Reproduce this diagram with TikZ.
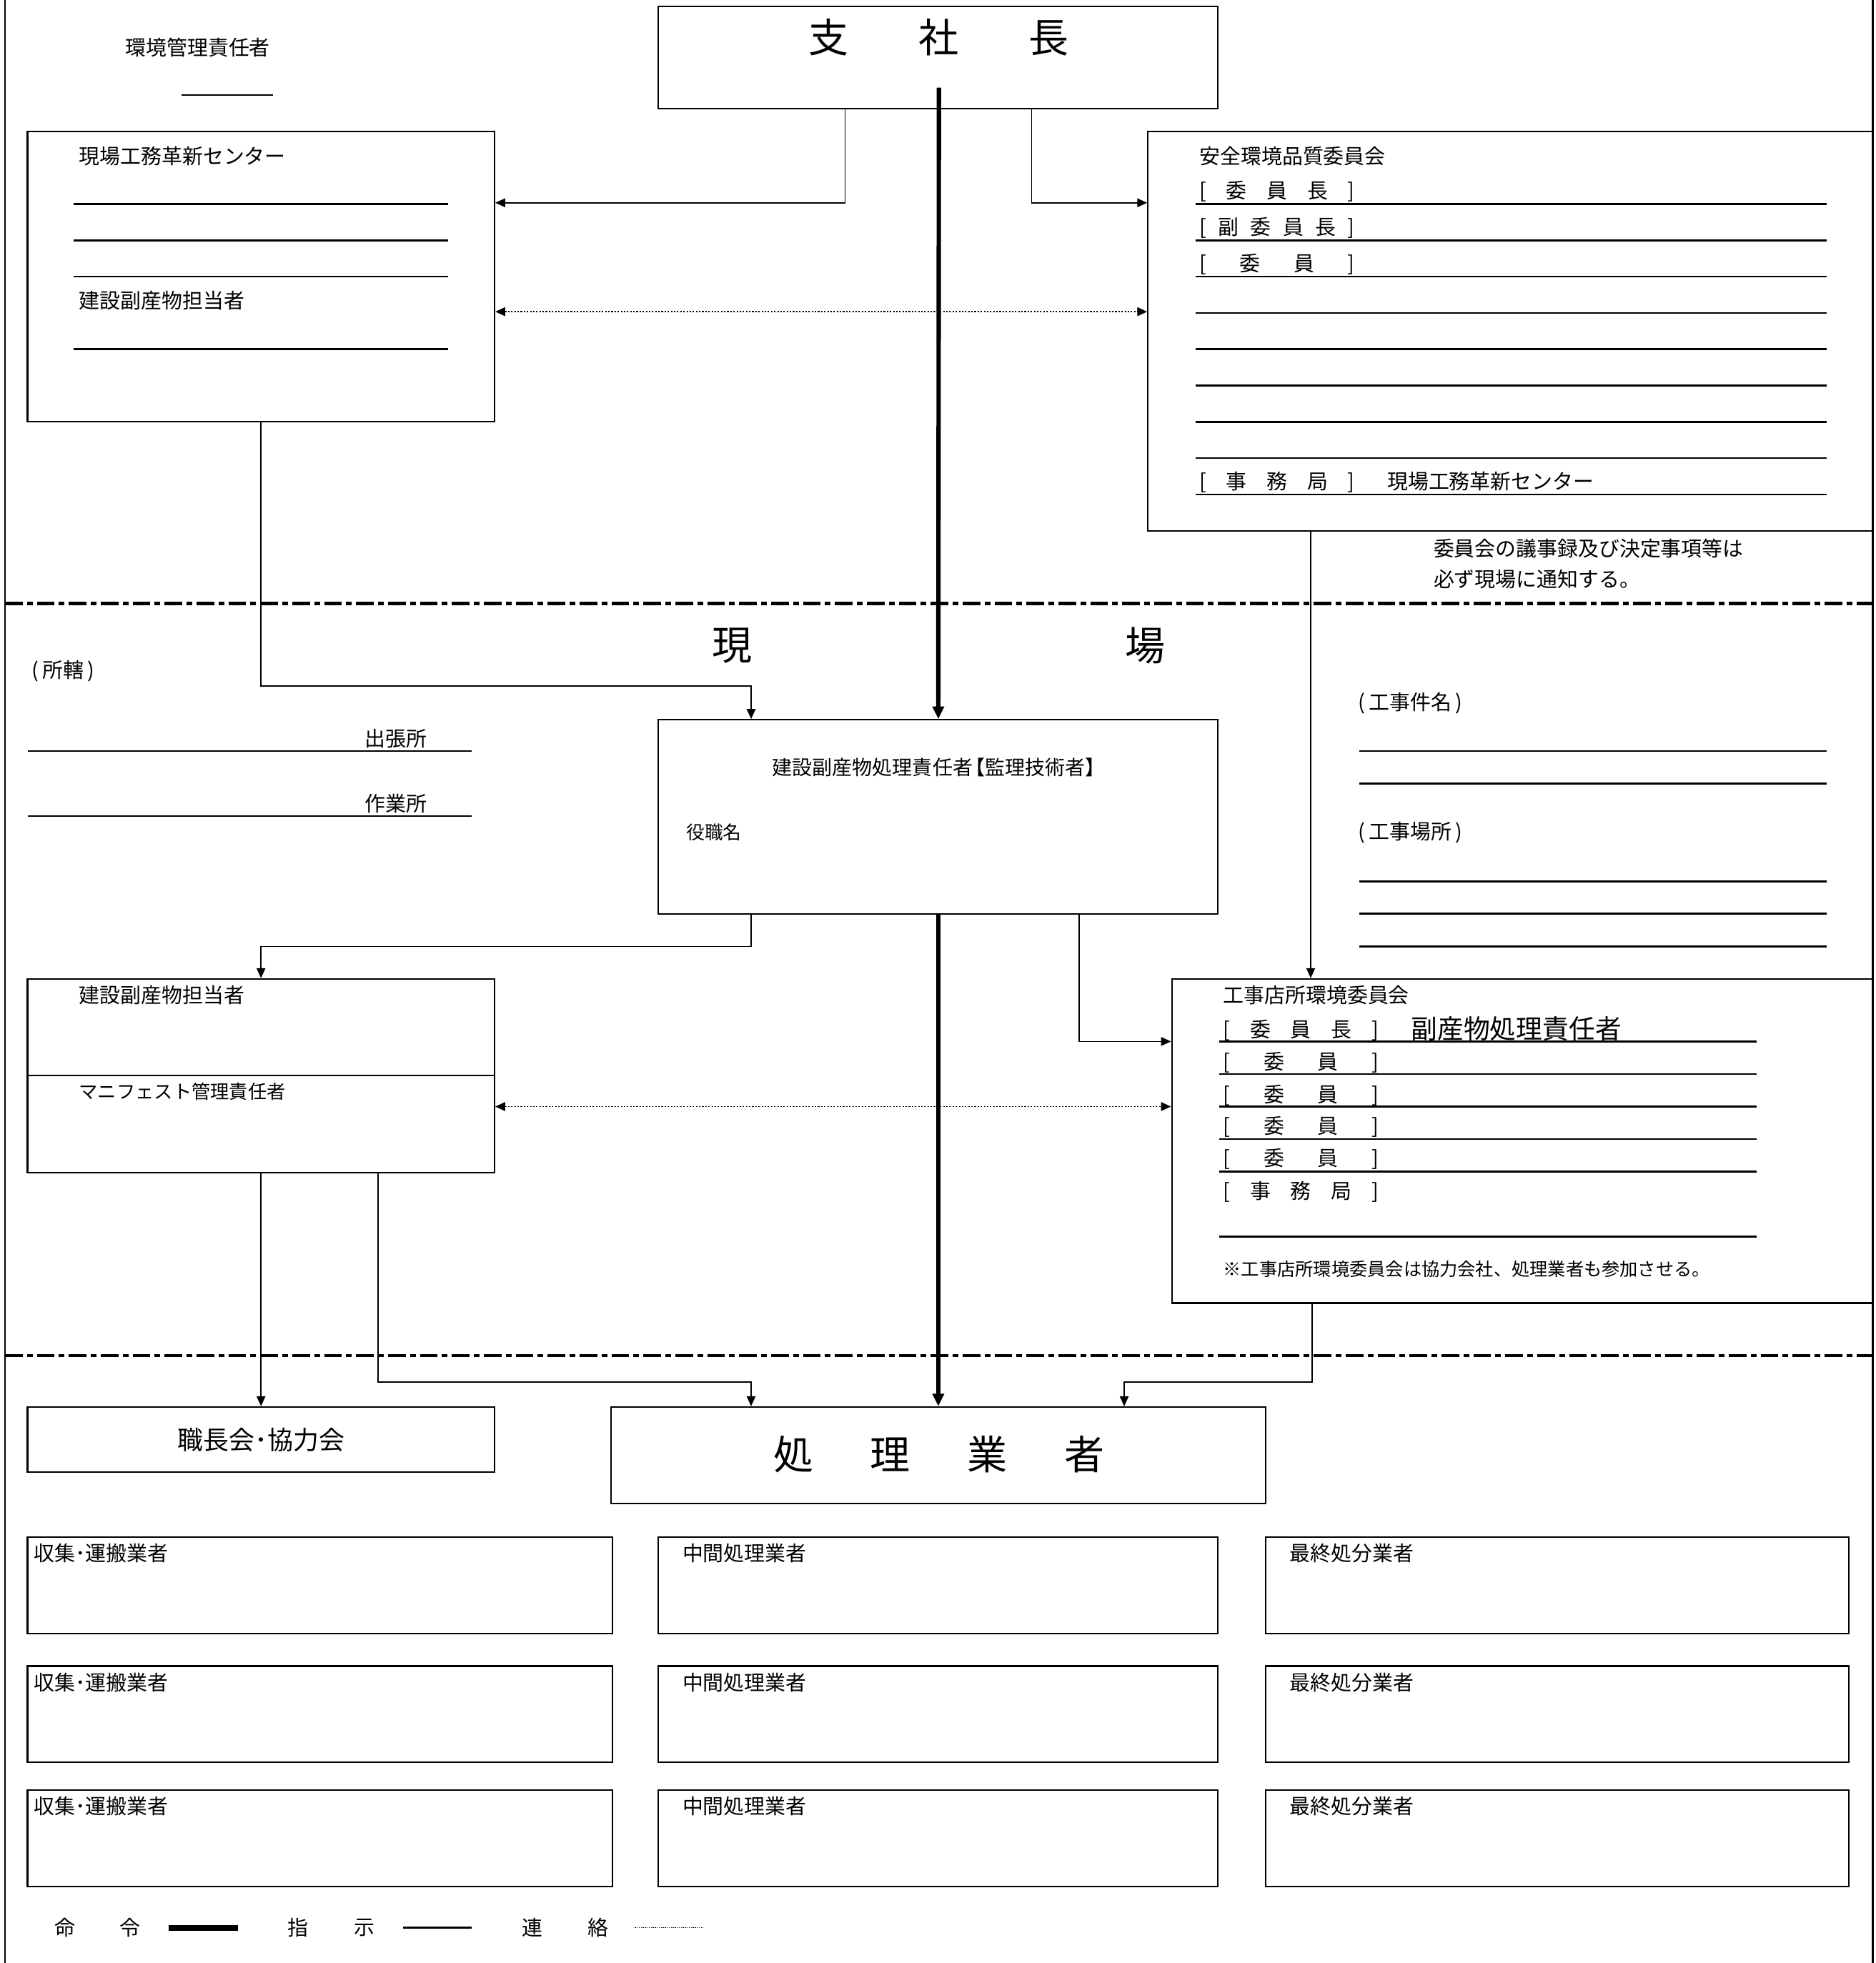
\documentclass[tikz,border=0pt]{standalone}
\usepackage{fontspec}
\setmainfont{Noto Sans CJK JP}
\usetikzlibrary{arrows.meta,fit}

\newcommand\fsz[1]{\fontsize{#1}{#1}\selectfont}
\newcommand\kakko[1]{\hbox to 124pt{[\hfill #1\hfill ]}}

\begin{document}
\begin{tikzpicture}[x=1pt,y=-1pt,
	box/.style={draw,line width=1.2pt,inner sep=0pt},
	txt/.style={inner sep=0pt,anchor=west,font=\fsz{16.5}},
	big/.style={inner sep=0pt,font=\fsz{32}},
	uline/.style={line width=1.5pt},
	meirei/.style={line width=3.5pt,-{Triangle[length=10pt,width=9pt]}},
	shiji/.style={line width=0.9pt,-{Triangle[length=8pt,width=7pt]}},
	renraku/.style={line width=1.1pt,dash pattern=on 1.2pt off 1.3pt,
		{Triangle[length=8pt,width=7pt]}-{Triangle[length=8pt,width=7pt]}},
	kugiri/.style={line width=2.6pt,dash pattern=on 14pt off 3.5pt on 4.5pt off 3.5pt}]
	\useasboundingbox (0,0) rectangle (1498,1568.2);
	% frame and zone borders
	\draw[line width=1.5pt] (4,0) -- (4,1568.2) (1496,0) -- (1496,1568.2);
	\draw[kugiri] (4,482) -- (1496,482);
	\draw[kugiri] (4,1083) -- (1496,1083);

	% head office
	\node[box, fit={(526,5) (973,87)}] (shacho) {};
	\node[big] (shacho_t) at (750,30) {支\hspace{56pt}社\hspace{56pt}長};
	\node[txt] (kankyo) at (100,38) {環境管理責任者};
	\draw[uline] (145,76) -- (218,76);

	\node[box, fit={(22,105) (395,337)}] (center) {};
	\node[txt] (center_t) at (63,125) {現場工務革新センター};
	\node[txt] (center_t2) at (63,240) {建設副産物担当者};
	\foreach \y in {163,192,221,279}
		\draw[uline] (59,\y) -- (358,\y);

	\node[box, fit={(917,105) (1496,424)}] (anzen) {};
	\node[txt] (anzen_t) at (958,125) {安全環境品質委員会};
	\node[txt] (anzen_1) at (958,153) {\kakko{委\hfill 員\hfill 長}};
	\node[txt] (anzen_2) at (958,182) {\kakko{副\hfill 委\hfill 員\hfill 長}};
	\node[txt] (anzen_3) at (958,211) {\kakko{委\hfill 員}};
	\node[txt] (anzen_4) at (958,385) {\kakko{事\hfill 務\hfill 局}\hspace{26pt}現場工務革新センター};
	\foreach \y in {163,192,...,395}
		\draw[uline] (955,\y) -- (1459,\y);
	\node[txt] (tsuchi_1) at (1145,438) {委員会の議事録及び決定事項等は};
	\node[txt] (tsuchi_2) at (1145,463) {必ず現場に通知する。};

	% site
	\node[big] (gen) at (585,516) {現};
	\node[big] (ba) at (915,516) {場};
	\node[txt] (shokatsu) at (25,536) {(\hspace{3pt}所轄\hspace{3pt})};
	\node[txt,anchor=east] (shutcho) at (341,590) {出張所};
	\node[txt,anchor=east] (sagyo) at (341,642) {作業所};
	\draw[uline] (22,600) -- (377,600) (22,652) -- (377,652);

	\node[txt] (kenmei) at (1085,562) {(\hspace{3pt}工事件名\hspace{3pt})};
	\node[txt] (basho) at (1085,665) {(\hspace{3pt}工事場所\hspace{3pt})};
	\foreach \y in {600,626,704,730,756}
		\draw[uline] (1086,\y) -- (1459,\y);

	\node[box, fit={(526,575) (973,730)}] (sekinin) {};
	\node[inner sep=0pt,font=\fsz{16}] (sekinin_t) at (750,613) {建設副産物処理責任者\kern-6pt【監理技術者】};
	\node[txt,font=\fsz{14.7}] (yakushoku) at (548,665) {役職名};

	\node[box, fit={(22,782) (395,937)}] (tanto) {};
	\draw[line width=1.2pt] (tanto.west |- 0,859) -- (tanto.east |- 0,859);
	\node[txt] (tanto_t) at (63,795) {建設副産物担当者};
	\node[txt,font=\fsz{15}] (manifest) at (63,872) {マニフェスト管理責任者};

	\node[box, fit={(936,782) (1496,1041)}] (koji) {};
	\node[txt] (koji_t) at (977,795) {工事店所環境委員会};
	\node[txt] (koji_1) at (977,823) {\kakko{委\hfill 員\hfill 長}};
	\node[txt,font=\fsz{21}] (koji_1b) at (1127,822) {副産物処理責任者};
	\foreach \y/\n in {849/2,875/3,900/4,926/5}
		\node[txt] (koji_\n) at (977,\y) {\kakko{委\hfill 員}};
	\node[txt] (koji_6) at (977,952) {\kakko{事\hfill 務\hfill 局}};
	\foreach \y in {832,858,884,910,936,988}
		\draw[uline] (974,\y) -- (1403,\y);
	\node[txt,font=\fsz{14.4}] (koji_note) at (977,1014) {※工事店所環境委員会は協力会社、処理業者も参加させる。};

	% contractors
	\node[box, fit={(22,1124) (395,1176)}] (shokucho) {};
	\node[inner sep=0pt,font=\fsz{20.5}] at (shokucho.center) {職長会･協力会};
	\node[box, fit={(488,1124) (1011,1201)}] (gyosha) {};
	\node[big] (gyosha_t) at (750,1162) {処\hspace{45.5pt}理\hspace{45.5pt}業\hspace{45.5pt}者};

	\foreach \top [count=\r] in {1228,1331,1430} {
		\node[box, fit={(22,\top) (489,\top+77)}] (unpan_\r) {};
		\node[box, fit={(526,\top) (973,\top+77)}] (chukan_\r) {};
		\node[box, fit={(1011,\top) (1477,\top+77)}] (saishu_\r) {};
		\node[txt] at (27,\top+13) {収集･運搬業者};
		\node[txt] at (545,\top+13) {中間処理業者};
		\node[txt] at (1030,\top+13) {最終処分業者};
	}

	% connectors
	\coordinate (m0) at (750,70);
	\draw[meirei] (m0) -- (sekinin.north);
	\draw[meirei] (sekinin.south) -- (gyosha.north);
	\draw[shiji] (shacho.south -| 675,0) |- (center.east |- 0,162);
	\draw[shiji] (shacho.south -| 824,0) |- (anzen.west |- 0,162);
	\draw[renraku] (center.east |- 0,249) -- (anzen.west |- 0,249);
	\draw[shiji] (center.south) |- (600,548) -- (sekinin.north -| 600,0);
	\draw[shiji] (anzen.south -| 1047,0) -- (koji.north -| 1047,0);
	\draw[shiji] (sekinin.south -| 600,0) |- (208.5,756) -- (tanto.north);
	\draw[shiji] (sekinin.south -| 862,0) |- (koji.west |- 0,832);
	\draw[renraku] (tanto.east |- 0,884) -- (koji.west |- 0,884);
	\draw[shiji] (tanto.south) -- (shokucho.north);
	\draw[shiji] (tanto.south -| 302,0) |- (600,1104) -- (gyosha.north -| 600,0);
	\draw[shiji] (koji.south -| 1048,0) |- (898,1104) -- (gyosha.north -| 898,0);

	% legend
	\node[txt,anchor=center] at (52,1540) {命};
	\node[txt,anchor=center] at (104,1540) {令};
	\draw[line width=4.5pt] (135,1540) -- (190,1540);
	\node[txt,anchor=center] at (238,1540) {指};
	\node[txt,anchor=center] at (291,1540) {示};
	\draw[line width=1.5pt] (322,1540) -- (377,1540);
	\node[txt,anchor=center] at (425,1540) {連};
	\node[txt,anchor=center] at (478,1540) {絡};
	\draw[line width=0.7pt,dash pattern=on 0.8pt off 0.8pt] (507,1540) -- (562,1540);
\end{tikzpicture}
\end{document}
